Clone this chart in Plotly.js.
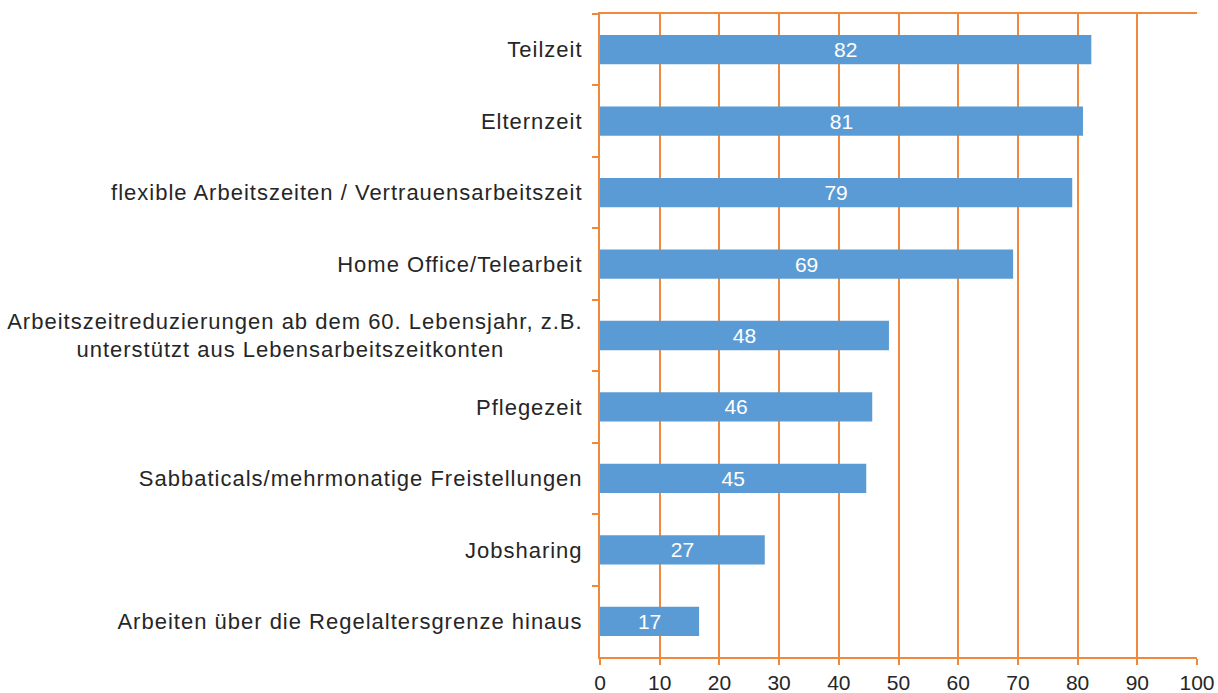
<!DOCTYPE html>
<html><head><meta charset="utf-8">
<script src="https://cdn.plot.ly/plotly-3.0.1.min.js"></script>
<style>
body{margin:0;background:#fff}#c{width:1218px;height:693px}
.ytick text{letter-spacing:1px}
</style>
</head><body><div id="c"></div>
<script>
const categories = [
  "Teilzeit",
  "Elternzeit",
  "flexible Arbeitszeiten / Vertrauensarbeitszeit",
  "Home Office/Telearbeit",
  "Arbeitszeitreduzierungen ab dem 60. Lebensjahr, z.B.<br>unterstützt aus Lebensarbeitszeitkonten" + "\u00a0".repeat(11),
  "Pflegezeit",
  "Sabbaticals/mehrmonatige Freistellungen",
  "Jobsharing",
  "Arbeiten über die Regelaltersgrenze hinaus"
];
const values = [82.3, 80.9, 79.1, 69.2, 48.4, 45.6, 44.6, 27.6, 16.6];
const labels = ["82", "81", "79", "69", "48", "46", "45", "27", "17"];
const xTicks = [0,10,20,30,40,50,60,70,80,90,100];

const orange = "#F0893B";
const fontFam = "Liberation Sans, Arial, sans-serif";

Plotly.newPlot("c", [{
  type: "bar", orientation: "h",
  y: categories, x: values,
  text: labels, textposition: "inside", insidetextanchor: "middle",
  constraintext: "none",
  textfont: {family: fontFam, size: 21, color: "#ffffff"},
  marker: {color: "#5B9BD5"},
  hoverinfo: "none"
}], {
  width: 1218, height: 693,
  margin: {l: 600, r: 21, t: 14, b: 36, pad: 0},
  paper_bgcolor: "#fff", plot_bgcolor: "#fff",
  bargap: 0.59,
  showlegend: false,
  font: {family: fontFam, size: 21, color: "#262626"},
  xaxis: {
    range: [0, 100], tickvals: xTicks, ticktext: xTicks.map(String),
    showgrid: true, gridcolor: orange, gridwidth: 2,
    showline: true, linecolor: orange, linewidth: 2, mirror: true,
    ticks: "outside", ticklen: 6, tickcolor: orange, tickwidth: 2,
    zeroline: false, fixedrange: true,
    tickfont: {family: fontFam, size: 21, color: "#262626"}
  },
  yaxis: {
    type: "category", autorange: "reversed",
    showline: true, linecolor: orange, linewidth: 2,
    ticks: "outside", ticklen: 6, tickcolor: orange, tickwidth: 2,
    tickson: "boundaries", showgrid: false,
    ticklabelstandoff: 11,
    tickfont: {family: fontFam, size: 22, color: "#262626"}
  }
}, {staticPlot: true});
</script></body></html>
